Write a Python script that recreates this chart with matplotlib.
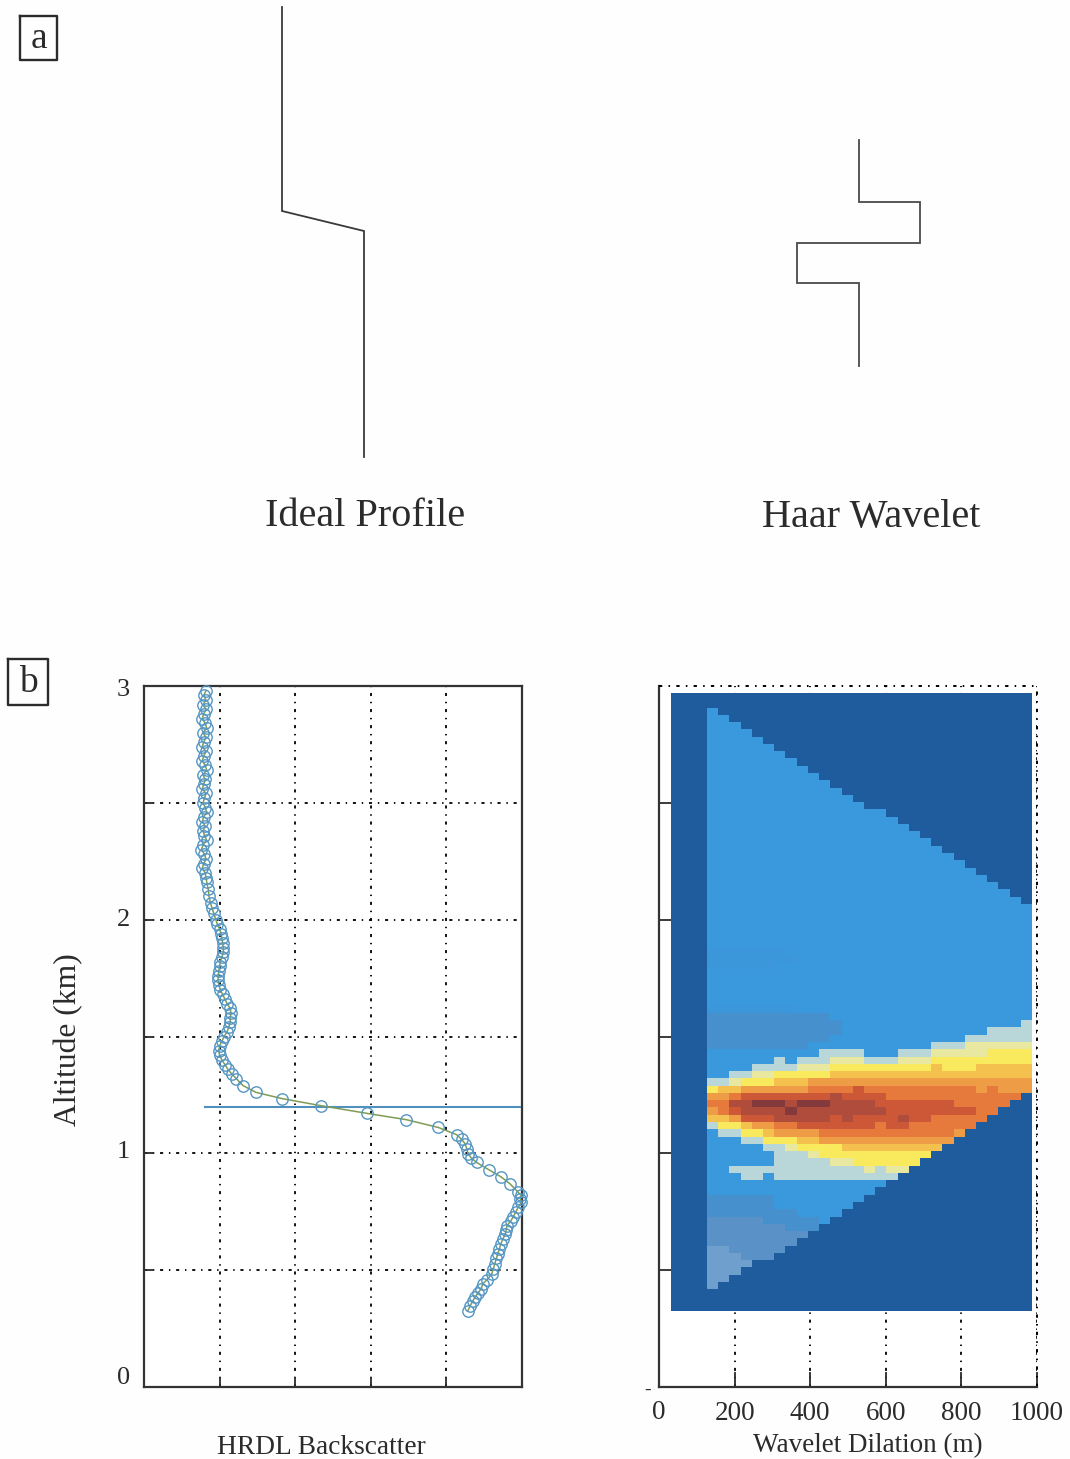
#!/usr/bin/env python3
"""Ideal profile / Haar wavelet sketch and HRDL backscatter wavelet covariance."""

import matplotlib

matplotlib.use("Agg")
import matplotlib.pyplot as plt
import numpy as np
from matplotlib.colors import ListedColormap

W, H = 1070, 1459
plt.rcParams["font.family"] = ["Liberation Serif", "DejaVu Serif"]
INK = "#2b2b2b"
GRID_LS = (0, (1.7, 3.2, 0.8, 3.2))

# panel a, page pixels
IDEAL_X = [282, 282, 364, 364]
IDEAL_Y = [7, 211, 231, 457]
HAAR_X = [859, 859, 920, 920, 797, 797, 859, 859]
HAAR_Y = [140, 202, 202, 243, 243, 283, 283, 366]

# panel b, backscatter profile
ALT = [
    2.98, 2.96, 2.94, 2.92, 2.90, 2.88, 2.86, 2.84, 2.82, 2.80, 2.78, 2.76, 2.74, 2.72,
    2.70, 2.68, 2.66, 2.64, 2.62, 2.60, 2.58, 2.56, 2.54, 2.52, 2.50, 2.48, 2.46, 2.44,
    2.42, 2.40, 2.38, 2.36, 2.34, 2.32, 2.30, 2.28, 2.26, 2.24, 2.22, 2.20, 2.18,
    2.16, 2.13, 2.10, 2.07, 2.05, 2.03, 2.00, 1.98, 1.96, 1.94, 1.92, 1.90, 1.88, 1.86,
    1.84, 1.82, 1.80, 1.78, 1.76, 1.74, 1.72, 1.70, 1.68, 1.66, 1.64, 1.62, 1.60, 1.58,
    1.56, 1.54, 1.52, 1.50, 1.48, 1.46, 1.44, 1.42, 1.40, 1.38, 1.36, 1.34, 1.32, 1.29,
    1.261, 1.234, 1.204, 1.171, 1.144, 1.111, 1.08, 1.06, 1.042, 1.02, 0.999, 0.98, 0.961,
    0.93, 0.90, 0.87, 0.833, 0.82, 0.806, 0.79, 0.769, 0.75, 0.726, 0.71, 0.69, 0.67, 0.656,
    0.635, 0.613, 0.59, 0.57, 0.55, 0.527, 0.505, 0.484, 0.46, 0.441, 0.42, 0.403, 0.385,
    0.369, 0.345, 0.326,
]
BACKSCATTER = [
    0.82, 0.79, 0.82, 0.78, 0.82, 0.79, 0.77, 0.81, 0.83, 0.78, 0.82, 0.79, 0.77, 0.82,
    0.79, 0.77, 0.81, 0.83, 0.78, 0.81, 0.79, 0.77, 0.82, 0.80, 0.78, 0.81, 0.83, 0.79,
    0.77, 0.81, 0.78, 0.80, 0.83, 0.78, 0.76, 0.80, 0.82, 0.79, 0.77, 0.81, 0.82,
    0.83, 0.85, 0.86, 0.88, 0.90, 0.92, 0.95, 0.97, 1.00, 1.02, 1.03, 1.04, 1.05, 1.05,
    1.03, 1.01, 1.00, 0.99, 0.98, 0.98, 0.99, 1.01, 1.04, 1.07, 1.10, 1.14, 1.15, 1.14,
    1.14, 1.12, 1.10, 1.06, 1.03, 1.00, 0.99, 1.00, 1.03, 1.07, 1.11, 1.16, 1.22, 1.31,
    1.48, 1.83, 2.34, 2.95, 3.47, 3.89, 4.135, 4.20, 4.245, 4.27, 4.285, 4.33, 4.40,
    4.56, 4.72, 4.84, 4.95, 4.99, 4.98, 4.99, 4.95, 4.92, 4.88, 4.85, 4.80, 4.79, 4.78,
    4.75, 4.72, 4.70, 4.68, 4.66, 4.64, 4.62, 4.60, 4.54, 4.48, 4.46, 4.42, 4.38,
    4.35, 4.31, 4.285,
]
PBL_ALT = 1.2
PBL_X = [0.81, 4.97]
ALT_TICKS = [0, 0.5, 1, 1.5, 2, 2.5, 3]
BS_TICKS = [1, 2, 3, 4]
ALT_LABELS = ["0", "1", "2", "3"]
ALT_LABEL_Y = [0.04, 1.005, 2.0, 2.985]

DILATION_TICKS = [200, 400, 600, 800, 1000]
DILATION_LABELS = ["200", "400", "600", "800", "1000"]

# wavelet covariance: one char per cell, top row first, first column is the left strip
LEVELS = ".sgthbpqyaordmk"
COLORS = [
    "#1f5c9e", "#5a92c8", "#4590cd", "#6f9fcc", "#3c96da", "#3a99dd", "#b9d7d8",
    "#e8e8a0", "#f8ea5c", "#f4c04e", "#ee9c46", "#e67a3c", "#cd5837", "#b04c3c", "#84393c",
]
COV_ROWS = [
    "..............................",
    "..............................",
    ".b............................",
    ".bb...........................",
    ".bbb..........................",
    ".bbbb.........................",
    ".bbbbb........................",
    ".bbbbbb.......................",
    ".bbbbbbb......................",
    ".bbbbbbbb.....................",
    ".bbbbbbbbb....................",
    ".bbbbbbbbbb...................",
    ".bbbbbbbbbbb..................",
    ".bbbbbbbbbbbb.................",
    ".bbbbbbbbbbbbb................",
    ".bbbbbbbbbbbbbb...............",
    ".bbbbbbbbbbbbbbbb.............",
    ".bbbbbbbbbbbbbbbbb............",
    ".bbbbbbbbbbbbbbbbbb...........",
    ".bbbbbbbbbbbbbbbbbbb..........",
    ".bbbbbbbbbbbbbbbbbbbb.........",
    ".bbbbbbbbbbbbbbbbbbbbb........",
    ".bbbbbbbbbbbbbbbbbbbbbb.......",
    ".bbbbbbbbbbbbbbbbbbbbbbb......",
    ".bbbbbbbbbbbbbbbbbbbbbbbb.....",
    ".bbbbbbbbbbbbbbbbbbbbbbbbb....",
    ".bbbbbbbbbbbbbbbbbbbbbbbbbb...",
    ".bbbbbbbbbbbbbbbbbbbbbbbbbbb..",
    ".bbbbbbbbbbbbbbbbbbbbbbbbbbbb.",
    ".bbbbbbbbbbbbbbbbbbbbbbbbbbbbb",
    ".bbbbbbbbbbbbbbbbbbbbbbbbbbbbb",
    ".bbbbbbbbbbbbbbbbbbbbbbbbbbbbb",
    ".bbbbbbbbbbbbbbbbbbbbbbbbbbbbb",
    ".bbbbbbbbbbbbbbbbbbbbbbbbbbbbb",
    ".bbbbbbbbbbbbbbbbbbbbbbbbbbbbb",
    ".hhhhhhhbbbbbbbbbbbbbbbbbbbbbb",
    ".hhhhhhhhbbbbbbbbbbbbbbbbbbbbb",
    ".hhhhhhbbbbbbbbbbbbbbbbbbbbbbb",
    ".bbbbbbbbbbbbbbbbbbbbbbbbbbbbb",
    ".bbbbbbbbbbbbbbbbbbbbbbbbbbbbb",
    ".bbbbbbbbbbbbbbbbbbbbbbbbbbbbb",
    ".bbbbbbbbbbbbbbbbbbbbbbbbbbbbb",
    ".bbbbbbbbbbbbbbbbbbbbbbbbbbbbb",
    ".hhhhhhhhbbbbbbbbbbbbbbbbbbbbb",
    ".gggggggggggbbbbbbbbbbbbbbbbbb",
    ".ggggggggggggbbbbbbbbbbbbbbbbp",
    ".ggggggggggggbbbbbbbbbbbbbpppp",
    ".gggggggggggbbbbbbbbbbbbpppppp",
    ".gggggggggbbbbbbbbbbbpppqqqqqq",
    ".bbbbbbbbbbppppbbbpppqqqqqyyyy",
    ".bbbbbbpbpppqqqpppqqqyyyyyyyyy",
    ".bbbbppppqqqyyyyyyyyyayyyaaaaa",
    ".bbppqqyyyyyaaaaaaaaaaaaaaaaaa",
    ".ppqyyyaaaoooooooooooooooooooo",
    ".yaaoooooorrrrdrrrrrrrrrrorooo",
    ".oorddddddddmddddrrrrrrrrrrrr.",
    ".rrmmkkkmkkkmmmmdddddddrrrrr..",
    ".ordmmmmkmmmmmmmmddddddddrr...",
    ".aaodddmmmmmdmddddmddrrrrr....",
    ".pyyaoorrdddddddrddrrrrrr.....",
    ".bppyyaoooorrrrrrrrrrrro......",
    ".bbbppyyyaaoooooooooooo.......",
    ".bbbbbppqyyyyaaaaaaaaa........",
    ".bbbbbbpppqyyyyyyyyyy.........",
    ".bbbbbbpppppqqyyyyyy..........",
    ".bbppppppppppppqpqq...........",
    ".bbbppbppppppppppp............",
    ".bbbbbbbbbbbbbbbb.............",
    ".bbbbbbbbbbbbbbb..............",
    ".ggggggbbbbbbbb...............",
    ".ggggggbbbbbbb................",
    ".ggggggggbbbb.................",
    ".sssssgggggb..................",
    ".sssssssggg...................",
    ".sssssssss....................",
    ".ssssssss.....................",
    ".ttsssss......................",
    ".tttsss.......................",
    ".tttt.........................",
    ".ttt..........................",
    ".tt...........................",
    ".t............................",
    "..............................",
    "..............................",
    "..............................",
]


def ax_px(left, top, right, bottom):
    return fig.add_axes([left / W, 1 - bottom / H, (right - left) / W, (bottom - top) / H])


def label_box(ax, x0, y0, x1, y1, s):
    ax.plot([x0, x1, x1, x0, x0], [y0, y0, y1, y1, y0], color=INK, lw=1.7)
    ax.text((x0 + x1) / 2, (y0 + y1) / 2 + 1, s, ha="center", va="center", fontsize=27, color=INK)


fig = plt.figure(figsize=(W / 100, H / 100), dpi=100, facecolor="#fefefe")

# page layer for panel a, labels
page = fig.add_axes([0, 0, 1, 1])
page.set_xlim(0, W)
page.set_ylim(H, 0)
page.axis("off")
page.plot(IDEAL_X, IDEAL_Y, color="#3a3a3a", lw=1.3, solid_joinstyle="miter")
page.plot(HAAR_X, HAAR_Y, color="#4a4a4a", lw=1.3, solid_joinstyle="miter")
page.text(365, 516, "Ideal Profile", ha="center", va="center", fontsize=29, color=INK)
page.text(871, 517, "Haar Wavelet", ha="center", va="center", fontsize=29, color=INK)
label_box(page, 20, 16, 57, 60, "a")
label_box(page, 8, 659, 48, 705, "b")
page.text(321, 1447, "HRDL Backscatter", ha="center", va="center", fontsize=19.7, color=INK)
page.text(868, 1446, "Wavelet Dilation (m)", ha="center", va="center", fontsize=19.5, color=INK)
page.text(69, 1040, "Altitude (km)", ha="center", va="center", rotation=90, fontsize=22.8, color=INK)
page.text(648, 1390, "-", ha="center", va="center", fontsize=14, color=INK)

# backscatter profile
ax = ax_px(144, 686, 522, 1387)
ax.set_xlim(0, 5)
ax.set_ylim(0, 3)
ax.set_xticks(BS_TICKS)
ax.set_yticks(ALT_TICKS)
ax.tick_params(direction="in", length=7, width=1.3, color=INK, labelbottom=False, labelleft=False)
ax.grid(True, color="black", lw=1.3, linestyle=GRID_LS)
ax.set_axisbelow(True)
for s in ax.spines.values():
    s.set_linewidth(1.6)
    s.set_color("#333333")
ax.plot(PBL_X, [PBL_ALT, PBL_ALT], color="#4f90bd", lw=1.5, zorder=3)
ax.plot(BACKSCATTER, ALT, color="#7f9c55", lw=1.1, zorder=3, clip_on=False)
ax.plot(BACKSCATTER, ALT, ls="none", marker="o", ms=8.2, mfc="none", mec="#5596c2", mew=1.0, zorder=4, clip_on=False)
for y, s in zip(ALT_LABEL_Y, ALT_LABELS):
    ax.text(-0.27, y, s, ha="center", va="center", fontsize=19, color=INK)

# wavelet covariance
ax = ax_px(659, 686, 1037, 1387)
ax.set_xlim(0, 1000)
ax.set_ylim(0, 3)
ax.set_xticks(DILATION_TICKS)
ax.set_xticklabels(DILATION_LABELS)
ax.set_yticks(ALT_TICKS[1:-1])
ax.tick_params(direction="in", length=11, width=1.3, color=INK, labelleft=False, labelsize=19.5, labelcolor=INK, pad=10)
ax.grid(True, axis="x", color="black", lw=1.3, linestyle=GRID_LS)
ax.set_axisbelow(True)
for side in ["top", "right"]:
    ax.spines[side].set_linestyle(GRID_LS)
    ax.spines[side].set_linewidth(1.4)
    ax.spines[side].set_capstyle("butt")
for side in ["left", "bottom"]:
    ax.spines[side].set_linewidth(1.6)
    ax.spines[side].set_color("#333333")
ax.text(0, -0.11, "0", ha="center", va="center", fontsize=19.5, color=INK)

grid = np.array([[LEVELS.index(c) for c in row.ljust(30, ".")[:30]] for row in COV_ROWS])
x_edges = np.concatenate(([32], np.linspace(127, 987, 30)))
y_edges = np.linspace(2.97, 0.325, grid.shape[0] + 1)
ax.pcolormesh(x_edges, y_edges, grid, cmap=ListedColormap(COLORS), vmin=-0.5, vmax=len(COLORS) - 0.5,
              shading="flat", antialiased=False, zorder=2)

fig.savefig("out.png", dpi=100, facecolor=fig.get_facecolor())
plt.close()
